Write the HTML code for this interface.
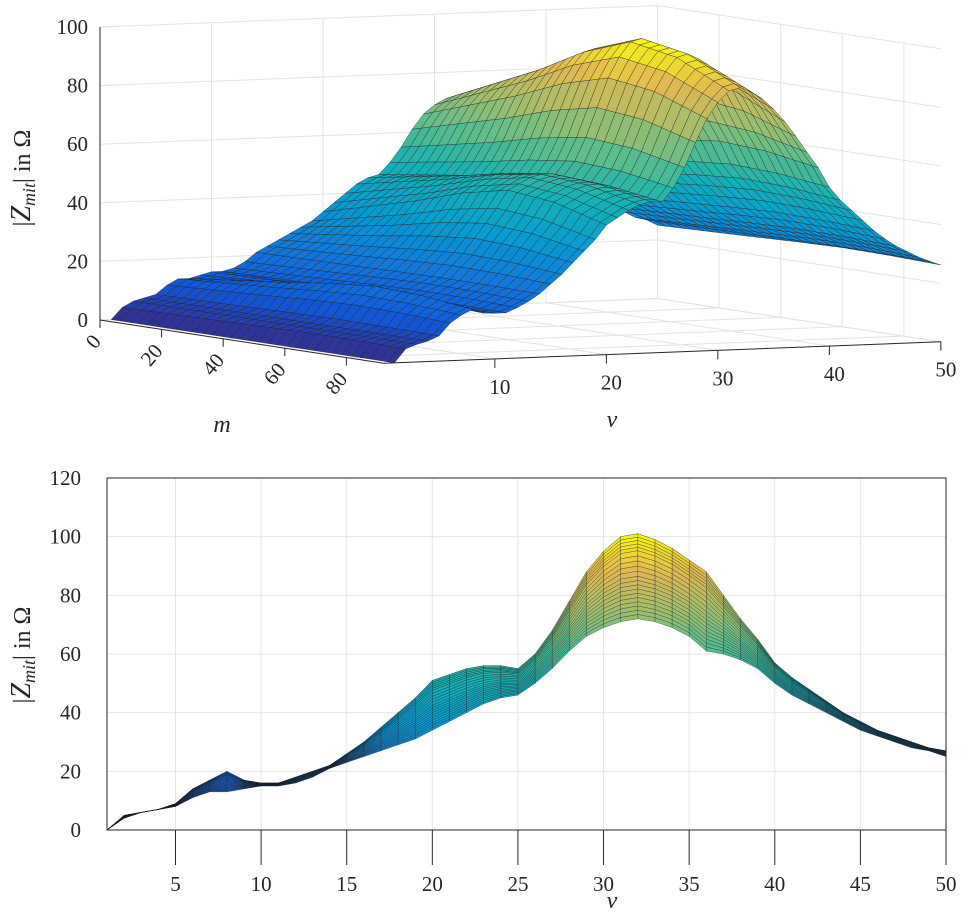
<!DOCTYPE html>
<html><head><meta charset="utf-8"><style>
body{margin:0;background:#fff;}
svg{display:block;font-family:"Liberation Serif",serif;}
</style></head><body>
<svg id="c" width="969" height="913" viewBox="0 0 969 913" xmlns="http://www.w3.org/2000/svg">
<g id="top"></g>
<g id="bot"></g>
</svg>
<script>
// data
const vValues=[1,2,3,4,5,6,7,8,9,10,11,12,13,14,15,16,17,18,19,20,21,22,23,24,25,26,27,28,29,30,31,32,33,34,35,36,37,38,39,40,41,42,43,44,45,46,47,48,49,50];
const upperZ=[0,5,6,7,9,14,17,20,17,16,16,18,20,22,26,30,35,40,45,51,53,55,56,56,55,60,68,78,88,95,100,101,99,96,92,88,80,72,65,57,52,48,44,40,37,34,32,30,28,27];
const lowerZ=[0,4,6,7,8,11,13,13,14,15,15,16,18,21,23,25,27,29,31,34,37,40,43,45,46,50,55,61,66,69,71,72,71,69,66,61,60,58,55,50,46,43,40,37,34,32,30,28,27,25];
const mValues=[0,15,30,45,60,75,92];
const mWeight=[0.0,0.25,0.5,0.8,1.0,0.9,0.6];
const zTicksTop=[0,20,40,60,80,100];
const mTicks=[0,20,40,60,80];
const vTicksTop=[10,20,30,40,50];
const zTicksBot=[0,20,40,60,80,100,120];
const vTicksBot=[5,10,15,20,25,30,35,40,45,50];

const NS="http://www.w3.org/2000/svg";
function mk(p,tag,at){const e=document.createElementNS(NS,tag);for(const k in at)e.setAttribute(k,at[k]);p.appendChild(e);return e;}
const stops=[[53,42,135],[15,92,221],[18,125,216],[7,156,207],[21,177,180],[89,189,140],[165,190,107],[225,185,82],[249,251,14]];
function parula(t){t=Math.max(0,Math.min(1,t))*8;const i=Math.min(7,Math.floor(t)),f=t-i;const a=stops[i],b=stops[i+1];
 return `rgb(${a.map((c,k)=>Math.round(c+(b[k]-c)*f)).join(',')})`;}
const mRows=[];for(let m=0;m<=92;m+=3)mRows.push(m);
if(mRows[mRows.length-1]!==92)mRows.push(92);
function wAt(m){for(let i=0;i<mValues.length-1;i++){if(m<=mValues[i+1]){const f=(m-mValues[i])/(mValues[i+1]-mValues[i]);return mWeight[i]+(mWeight[i+1]-mWeight[i])*f;}}return mWeight[mWeight.length-1];}
function zAt(mi,vi){const w=wAt(mRows[mi]);return lowerZ[vi]+w*(upperZ[vi]-lowerZ[vi]);}

// ---------- TOP 3D ----------
const T=document.getElementById('top');
function P(m,v,z){return [100+3.08*m+11.15*v, 320+0.47*m-0.43*v-2.93*z];}
const gs={stroke:'#e3e3e3','stroke-width':1,fill:'none'};
zTicksTop.forEach(z=>{const a=P(0,0,z),b=P(0,50,z),c=P(92,50,z);
 const l=mk(T,'polyline',Object.assign({points:`${a} ${b} ${c}`},gs));});
vTicksTop.concat([0]).forEach(v=>{const a=P(0,v,0),b=P(0,v,100),c=P(92,v,0);
 const l=mk(T,'polyline',Object.assign({points:`${c} ${a} ${b}`},gs));});
mTicks.forEach(m=>{const a=P(m,0,0),b=P(m,50,0),c=P(m,50,100);
 const l=mk(T,'polyline',Object.assign({points:`${a} ${b} ${c}`},gs));});
let ax=mk(T,'line',{x1:P(0,0,0)[0],y1:P(0,0,0)[1],x2:P(0,0,100)[0],y2:P(0,0,100)[1],stroke:'#262626','stroke-width':1});

ax=mk(T,'line',{x1:P(0,0,0)[0],y1:P(0,0,0)[1],x2:P(92,0,0)[0],y2:P(92,0,0)[1],stroke:'#262626','stroke-width':1});

ax=mk(T,'line',{x1:P(92,0,0)[0],y1:P(92,0,0)[1],x2:P(92,50,0)[0],y2:P(92,50,0)[1],stroke:'#262626','stroke-width':1});

zTicksTop.forEach(z=>{const p=P(0,0,z);const t=mk(T,'text',{x:p[0]-12,y:p[1]+7,'text-anchor':'end','font-size':21,fill:'#262626'});t.textContent=z;
 });
mTicks.forEach(m=>{const p=P(m,0,0);mk(T,'line',{x1:p[0],y1:p[1],x2:p[0],y2:p[1]+8,stroke:'#262626'});
 const t=mk(T,'text',{x:p[0]+2,y:p[1]+22,'text-anchor':'end','font-size':21,fill:'#262626',transform:`rotate(-50 ${p[0]+2} ${p[1]+22})`});t.textContent=m;
 });
vTicksTop.forEach(v=>{const p=P(92,v,0);mk(T,'line',{x1:p[0],y1:p[1],x2:p[0],y2:p[1]+9,stroke:'#262626'});
 const t=mk(T,'text',{x:p[0]+5,y:p[1]+35,'text-anchor':'middle','font-size':21,fill:'#262626'});t.textContent=v;
 });
const quads=[];
for(let i=0;i<mRows.length-1;i++)for(let j=0;j<vValues.length-1;j++){
 const z1=zAt(i,j),z2=zAt(i,j+1),z3=zAt(i+1,j+1),z4=zAt(i+1,j);
 const mc=(mRows[i]+mRows[i+1])/2,vc=(vValues[j]+vValues[j+1])/2;
 quads.push({i,j,z:[z1,z2,z3,z4],d:mc*0.47-vc*0.43});}
quads.sort((a,b)=>a.d-b.d);
const surf=mk(T,'g',{});
quads.forEach(q=>{const {i,j,z}=q;
 const pts=[P(mRows[i],vValues[j],z[0]),P(mRows[i],vValues[j+1],z[1]),P(mRows[i+1],vValues[j+1],z[2]),P(mRows[i+1],vValues[j],z[3])];
 const e=mk(surf,'polygon',{points:pts.map(p=>p.join(',')).join(' '),fill:parula((z[0]+z[1]+z[2]+z[3])/4/101),stroke:'#1a1a1a','stroke-width':0.4,'stroke-opacity':0.85});
 });
let tt=mk(T,'text',{x:222,y:432,'font-size':24,'font-style':'italic','text-anchor':'middle',fill:'#262626'});tt.textContent='m';

tt=mk(T,'text',{x:612,y:427,'font-size':24,'font-style':'italic','text-anchor':'middle',fill:'#262626'});tt.textContent='v';

function ylab(p,cy){const t=mk(p,'text',{x:0,y:0,'font-size':24,'text-anchor':'middle',fill:'#262626',transform:`translate(30 ${cy}) rotate(-90)`});
 t.innerHTML='|<tspan font-style="italic" font-size="28">Z</tspan><tspan font-style="italic" font-size="18" dy="5">mit</tspan><tspan dy="-5">| in Ω</tspan>';
 }
ylab(T,178);

// ---------- BOTTOM 2D ----------
const B=document.getElementById('bot');
const X0=107,X1=946,Y0=830,Y1=478;
function bx(v){return X0+(v-1)*(X1-X0)/49;}
function by(z){return Y0-z*(Y0-Y1)/120;}
zTicksBot.forEach(z=>{const l=mk(B,'line',{x1:X0,x2:X1,y1:by(z),y2:by(z),stroke:'#e6e6e6'});
 const t=mk(B,'text',{x:X0-26,y:by(z)+7,'text-anchor':'end','font-size':21,fill:'#262626'});t.textContent=z;
 });
vTicksBot.forEach(v=>{const l=mk(B,'line',{x1:bx(v),x2:bx(v),y1:Y0,y2:Y1,stroke:'#e6e6e6'});
 mk(B,'line',{x1:bx(v),x2:bx(v),y1:Y0,y2:Y0+35,stroke:'#262626'});
 const t=mk(B,'text',{x:bx(v),y:Y0+61,'text-anchor':'middle','font-size':21,fill:'#262626'});t.textContent=v;
 });
const bm=mk(B,'g',{});
quads.slice().sort((a,b)=>b.i-a.i).forEach(q=>{const {i,j,z}=q;
 const pts=[[bx(vValues[j]),by(z[0])],[bx(vValues[j+1]),by(z[1])],[bx(vValues[j+1]),by(z[2])],[bx(vValues[j]),by(z[3])]];
 const e=mk(bm,'polygon',{points:pts.map(p=>p.join(',')).join(' '),fill:parula((z[0]+z[1]+z[2]+z[3])/4/101),stroke:'#1a1a1a','stroke-width':0.4,'stroke-opacity':0.7});
 });
const box=mk(B,'rect',{x:X0,y:Y1,width:X1-X0,height:Y0-Y1,fill:'none',stroke:'#262626','stroke-width':1});

tt=mk(B,'text',{x:612,y:908,'font-size':24,'font-style':'italic','text-anchor':'middle',fill:'#262626'});tt.textContent='v';

ylab(B,655);
</script>
</body></html>
